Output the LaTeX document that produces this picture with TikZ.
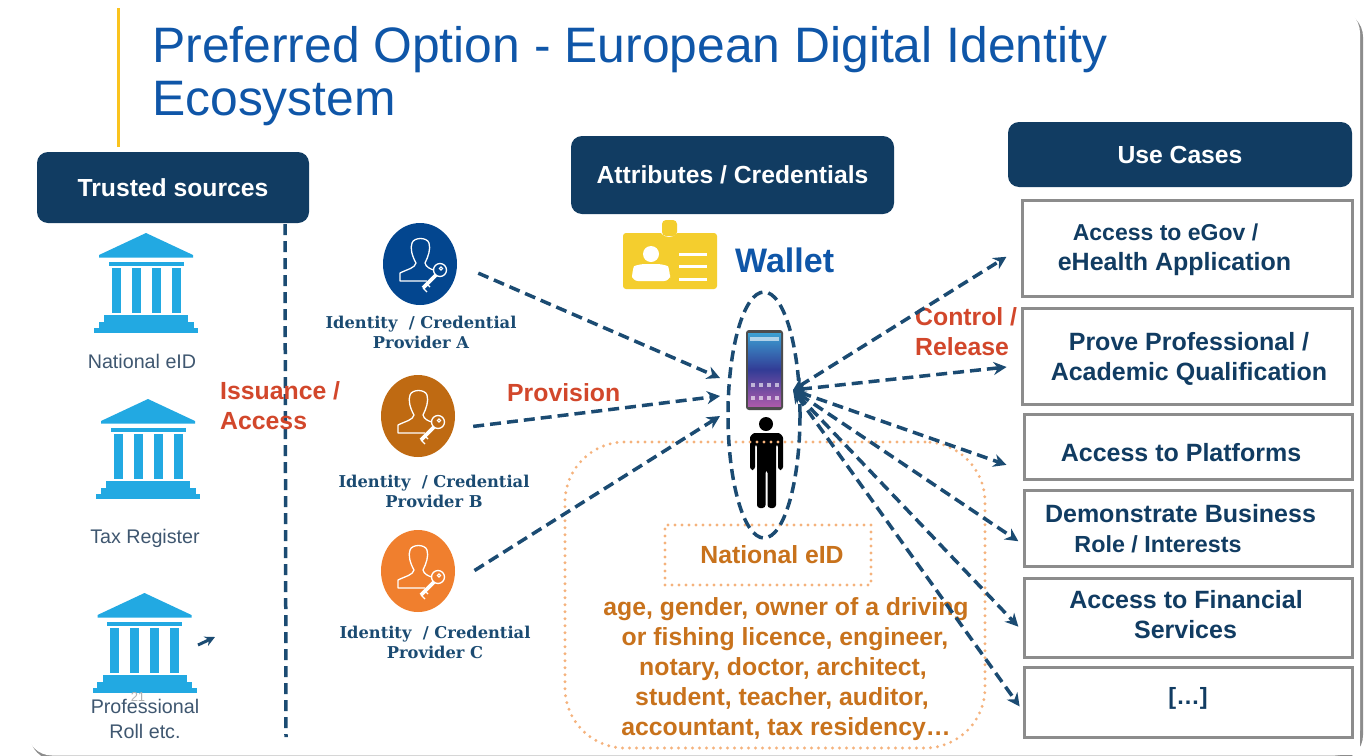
\documentclass[tikz,border=0pt]{standalone}
\usepackage{fontspec}
\setmainfont{Liberation Sans}
\newfontfamily\slabfont{DejaVu Serif}
\usetikzlibrary{arrows.meta,shapes.geometric}
\definecolor{navy}{HTML}{113C62}
\definecolor{flow}{HTML}{1B4B72}
\definecolor{titleblue}{HTML}{0F56A8}
\definecolor{redlab}{HTML}{D2472B}
\definecolor{orangelab}{HTML}{C8721C}
\definecolor{dotorange}{HTML}{F5B27C}
\definecolor{boxgray}{HTML}{8C8C8C}
\definecolor{bankblue}{HTML}{22A9E2}
\definecolor{badge}{HTML}{F4CE2E}
\definecolor{graytext}{HTML}{3F5770}
\definecolor{provblue}{HTML}{03468F}
\definecolor{provbrown}{HTML}{BF6A12}
\definecolor{provorange}{HTML}{F07F2E}
\definecolor{rulegold}{HTML}{FAC31E}
\definecolor{phonetop}{HTML}{3CA0D2}
\definecolor{phonemid}{HTML}{323C96}
\definecolor{phonebot}{HTML}{AA5AAA}
\tikzset{
  x=1pt,y=-1pt,
  fs/.style={font=\fontsize{#1}{#1}\selectfont},
  bigeven/.style={text height=22pt,text depth=5pt},
  header/.style={fill=navy,rounded corners=11,inner sep=0,text=white,font=\fontsize{24.7}{25}\selectfont\bfseries},
  casebox/.style={draw=boxgray,line width=3,fill=white,inner sep=0},
  caselabel/.style={bigeven,text=navy,inner sep=0,font=\fontsize{#1}{25}\selectfont\bfseries},
  caselabel/.default=25,
  redlabel/.style={bigeven,text=redlab,inner sep=0,anchor=west,font=\fontsize{24.8}{25}\selectfont\bfseries},
  orangelabel/.style={bigeven,text=orangelab,inner sep=0,font=\fontsize{24.8}{25}\selectfont\bfseries},
  grlabel/.style={text height=19pt,text depth=4pt,text=graytext,inner sep=0,font=\fontsize{19.7}{20}\selectfont},
  provlabel/.style={text height=17pt,text depth=4pt,text=flow,inner sep=0,font=\fontsize{16.3}{17}\slabfont\bfseries},
  flowline/.style={draw=flow,line width=3.5,dash pattern=on 11 off 6},
  flowarrow/.style={flowline,-{Stealth[length=13,width=13]}},
  flowboth/.style={flowline,{Stealth[length=13,width=13]}-{Stealth[length=13,width=13]}},
  dotted box/.style={draw=dotorange,line width=3.2,line cap=round,dash pattern=on 0 off 7},
  provider/.style={ellipse,minimum width=74,minimum height=82,inner sep=0,fill=#1},
  bank/.pic={
    \fill[bankblue] (0,0) -- (47,22) -- (47,24.5) -- (-47,24.5) -- (-47,22) -- cycle;
    \fill[bankblue] (-37.5,28.5) rectangle (37.5,33);
    \foreach \cx in {-30,-10,10,30} \fill[bankblue] (\cx-4.5,35) rectangle (\cx+4.5,80);
    \fill[bankblue] (-42,82) rectangle (42,89);
    \fill[bankblue] (-47.5,89) rectangle (47.5,94.5);
    \fill[bankblue] (-52,94.5) rectangle (52,99.5);
  },
  keyuser/.pic={
    \draw[white,line width=1.3,line join=round]
      (7,17) -- (-20,17) -- (-20,9)
      .. controls (-12,5) and (-5,4) .. (-4,-1)
      .. controls (-8,-8) and (-10,-16) .. (-8,-21)
      .. controls (-6,-27) and (7,-27) .. (9,-21)
      .. controls (11,-15) and (8,-7) .. (5,-1)
      .. controls (6,3) and (10,5) .. (14,6);
    \draw[white,line width=1.3] (20,6) circle (6.5);
    \draw[white,line width=1.1] (21,4.5) circle (1.6);
    \draw[white,line width=3.6] (16,11) -- (3,24);
    \draw[white,line width=1.3] (3,24) -- (7,28);
    \draw[white,line width=1.3] (7,20) -- (10,23);
  }
}
\begin{document}
\begin{tikzpicture}
\useasboundingbox (0,0) rectangle (1367,755);
\fill[white] (0,0) rectangle (1367,755);
\fill[black!45,rounded corners=25] (30,12) rectangle (1363,760);
\fill[white,rounded corners=25] (27,8) rectangle (1360,755.5);
\fill[white] (60,700) rectangle (1360,755);

% title
\fill[rulegold] (116.5,8) rectangle (120,147);
\node (title1) [anchor=west,inner sep=0,text=titleblue,fs=49.8] at (152,50) {Preferred Option - European Digital Identity};
\node (title2) [anchor=west,inner sep=0,text=titleblue,fs=49.8] at (152,104) {Ecosystem};

% headers
\node (hTrusted) [header,minimum width=272,minimum height=71] at (173,187.5) {Trusted sources};
\node (hAttr) [header,minimum width=323,minimum height=78] at (732.5,175) {Attributes / Credentials};
\node (hUse) [header,minimum width=344,minimum height=65] at (1180,154.5) {Use Cases};

% banks
\pic at (146,233) {bank};
\pic at (148,399) {bank};
\pic at (144.5,593) {bank};
\node (lNat) [grlabel] at (142,361) {National eID};
\node (lTax) [grlabel] at (145,536) {Tax Register};
\node (lNum) [inner sep=0,text=black!30,fs=13] at (138,697) {21};
\node (lProf) [grlabel] at (145,706) {Professional};
\node (lRoll) [grlabel] at (145,731) {Roll etc.};
\coordinate (stubA) at (198,645);
\coordinate (stubB) at (215,637);
\draw[flow,line width=3,-{Stealth[length=10,width=10]}] (stubA) -- (stubB);

% vertical separator
\coordinate (sepStart) at (285,224);
\coordinate (sepEnd) at (286,737);
\draw[flowline] (sepStart) -- (sepEnd);

% red labels
\node (rIss) [redlabel] at (220,391) {Issuance /};
\node (rAcc) [redlabel] at (220,421) {Access};
\node (rProv) [redlabel] at (507,393) {Provision};
\node (rCtl) [redlabel] at (915,317) {Control /};
\node (rRel) [redlabel] at (915,347) {Release};

% providers
\node (provA) [provider=provblue] at (420,264) {};
\node (provB) [provider=provbrown] at (418,416) {};
\node (provC) [provider=provorange] at (418,571) {};
\pic at (provA) {keyuser};
\pic at (provB) {keyuser};
\pic at (provC) {keyuser};
\node (pa1) [provlabel] at (421,322) {Identity\ \ / Credential};
\node (pa2) [provlabel] at (421,342) {Provider A};
\node (pb1) [provlabel] at (434,481) {Identity\ \ / Credential};
\node (pb2) [provlabel] at (434,501) {Provider B};
\node (pc1) [provlabel] at (435,632) {Identity\ \ / Credential};
\node (pc2) [provlabel] at (435,652) {Provider C};

% badge
\fill[badge,rounded corners=3] (623,233) rectangle (717,289);
\fill[white] (669,227) circle (10);
\fill[badge,rounded corners=4] (662,220) rectangle (677,236);
\fill[white] (651,254) circle (8);
\fill[white,rounded corners=6] (632,281) -- (632,272) .. controls (634,266) and (640,264) .. (651,264) .. controls (662,264) and (668,266) .. (670,272) -- (670,281) -- cycle;
\foreach \ly in {254,266,279} \fill[white] (679,\ly-1.5) rectangle (707,\ly+1.5);
\node (wallet) [anchor=west,inner sep=0,text=titleblue,font=\fontsize{34}{34}\selectfont\bfseries] at (735,260) {Wallet};

% phone
\fill[black!70,rounded corners=3] (746,330) rectangle (783,410);
\shade[top color=phonetop,bottom color=phonebot,middle color=phonemid] (748,333) rectangle (781,406);
\fill[white,opacity=.6] (750,337) rectangle (779,341);
\foreach \px in {753,761,769,777} {
  \fill[white,opacity=.6] (\px-1.7,383) rectangle (\px+1.7,387);
  \fill[white,opacity=.6] (\px-1.7,396) rectangle (\px+1.7,400);
}
% person
\fill[black] (766,424) circle (7);
\fill[black,rounded corners=3] (750,470) -- (750,441) .. controls (750,436) and (753,433) .. (758,433) -- (775,433) .. controls (780,433) and (783,436) .. (783,441) -- (783,470) -- (778,470) -- (778,444) -- (776,444) -- (776,508) -- (767.5,508) -- (767.5,470) -- (765.5,470) -- (765.5,508) -- (757,508) -- (757,444) -- (755,444) -- (755,470) -- cycle;

% dotted regions
\node (attrRegion) [dotted box,rounded corners=60,minimum width=420,minimum height=306,inner sep=0] at (775,595) {};
\node (eidBox) [dotted box,minimum width=206,minimum height=60,inner sep=0] at (768,555) {};
\node (eidLabel) [orangelabel] at (772,555) {National eID};
\node (o1) [orangelabel] at (786,607) {age, gender, owner of a driving};
\node (o2) [orangelabel] at (785,637) {or fishing licence, engineer,};
\node (o3) [orangelabel] at (783,667) {notary, doctor, architect,};
\node (o4) [orangelabel] at (782,697) {student, teacher, auditor,};
\node (o5) [orangelabel] at (786,727) {accountant, tax residency…};

% wallet ellipse
\node (walletEllipse) [ellipse,draw=flow,line width=3.5,dash pattern=on 11 off 6,minimum width=72,minimum height=246,inner sep=0] at (764,415) {};

% use case boxes
\node (c1) [casebox,minimum width=330,minimum height=96] at (1187,248) {};
\node (c2) [casebox,minimum width=330,minimum height=96] at (1187,356) {};
\node (c3) [casebox,minimum width=328,minimum height=65] at (1188,446.5) {};
\node (c4) [casebox,minimum width=328,minimum height=76] at (1188,528) {};
\node (c5) [casebox,minimum width=328,minimum height=79] at (1188,617.5) {};
\node (c6) [casebox,minimum width=328,minimum height=70] at (1188,702) {};
\node (t1a) [caselabel=23] at (1165.5,232) {Access to eGov /};
\node (t1b) [caselabel] at (1174.5,262) {eHealth Application};
\node (t2a) [caselabel] at (1189,342) {Prove Professional /};
\node (t2b) [caselabel] at (1189,372) {Academic Qualification};
\node (t3) [caselabel] at (1181,453) {Access to Platforms};
\node (t4a) [caselabel] at (1180.5,514) {Demonstrate Business};
\node (t4b) [caselabel=23.3] at (1158,544) {Role / Interests};
\node (t5a) [caselabel] at (1186,600) {Access to Financial};
\node (t5b) [caselabel] at (1185.5,630) {Services};
\node (t6) [caselabel=23.5] at (1188,696) {[…]};

% connectors
\coordinate (wL1) at (720,378);
\coordinate (wL2) at (720,396);
\coordinate (wL3) at (720,416);
\draw[flowarrow,shorten <=23] (provA.east) -- (wL1);
\draw[flowarrow,shorten <=20] (provB.-20) -- (wL2);
\draw[flowarrow,shorten <=25] (provC.-20) -- (wL3);
\coordinate (hub) at (793,390);
\draw[flowboth,shorten >=16.5] (hub) -- (c1.west);
\draw[flowboth,shorten >=14] (hub) -- ([yshift=-9.5]c2.west);
\draw[flowboth,shorten >=17] (hub) -- ([yshift=-24]c3.west);
\draw[flowboth,shorten >=5] (hub) -- ([yshift=-16]c4.west);
\draw[flowboth,shorten >=6] (hub) -- ([yshift=-13.5]c5.west);
\draw[flowboth,shorten >=5] (hub) -- ([yshift=-8.5]c6.west);
\end{tikzpicture}
\end{document}
